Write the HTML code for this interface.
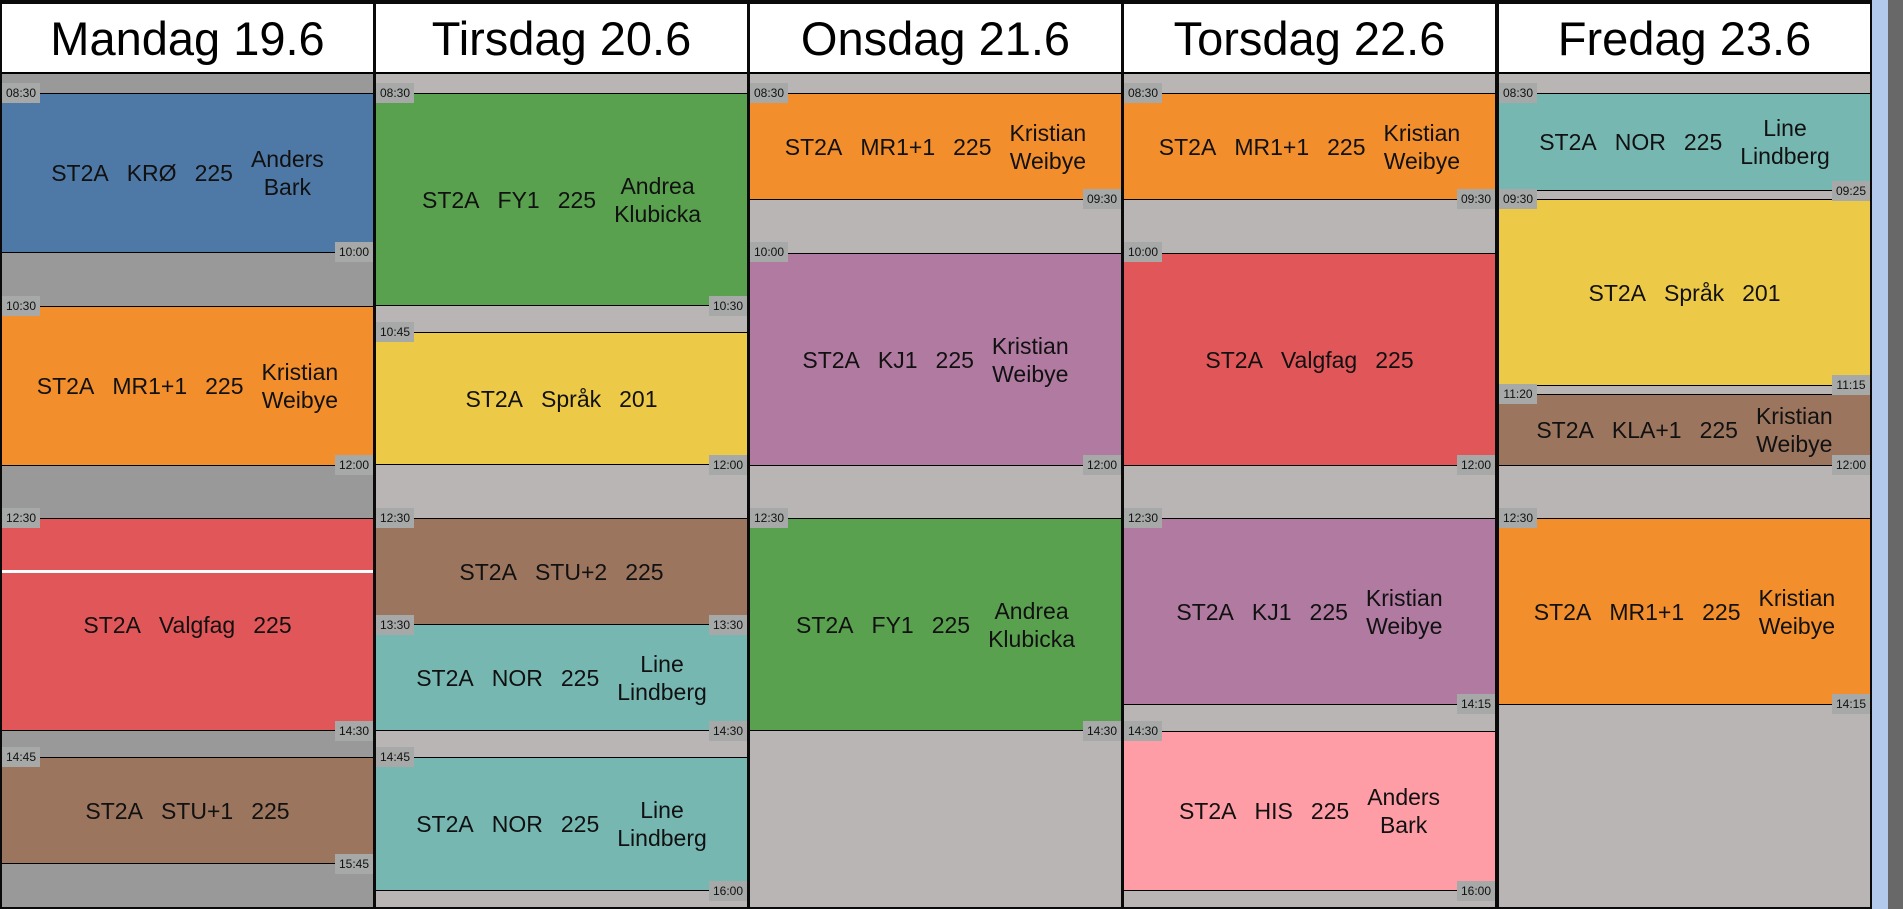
<!DOCTYPE html>
<html><head><meta charset="utf-8"><style>
*{margin:0;padding:0;box-sizing:border-box}
body{width:1903px;height:909px;overflow:hidden;background:#1b2236;font-family:"Liberation Sans",Arial,sans-serif;position:relative}
.sb1{position:absolute;left:1872px;top:0;width:16px;height:909px;background:#b3c9ec}
.sb2{position:absolute;left:1888px;top:0;width:15px;height:909px;background:#686868}
.blk{position:absolute;left:0;top:0;width:1872px;height:909px;background:#0a0a0a}
.col{position:absolute;top:4px;width:371px;height:903px;background:#b8b5b4}
.col.m{background:#999}
.hd{height:70px;background:#fff;display:flex;align-items:center;justify-content:center;font-size:47px;color:#000;border-bottom:2px solid #000}
.ev{position:absolute;left:0;width:371px;border-top:1px solid #000;border-bottom:1px solid #000;display:flex;align-items:center;justify-content:center;font-size:23px;color:#111;line-height:28px}
.ev span{margin:0 9px;text-align:center}
.ev .n{width:min-content}
.t{position:absolute;width:38px;height:20px;background:#a6a9a8;font-size:12px;line-height:20px;text-align:center;color:#111;z-index:2}
.tl{left:0}.tr{right:0}
</style></head><body>
<div class="blk"></div>
<div class="sb1"></div><div class="sb2"></div>

<!-- Monday -->
<div class="col m" style="left:2px">
<div class="hd">Mandag 19.6</div>
<div class="ev" style="top:89px;height:160px;background:#4e79a7"><span>ST2A</span><span>KRØ</span><span>225</span><span class="n">Anders Bark</span></div>
<div class="ev" style="top:302px;height:160px;background:#f28e2b"><span>ST2A</span><span>MR1+1</span><span>225</span><span class="n">Kristian Weibye</span></div>
<div class="ev" style="top:514px;height:213px;background:#e15759"><span>ST2A</span><span>Valgfag</span><span>225</span></div>
<div style="position:absolute;left:0;top:566px;width:371px;height:3px;background:#fff"></div>
<div class="ev" style="top:753px;height:107px;background:#9c755f"><span>ST2A</span><span>STU+1</span><span>225</span></div>
<div class="t tl" style="top:79px">08:30</div><div class="t tr" style="top:238px">10:00</div>
<div class="t tl" style="top:292px">10:30</div><div class="t tr" style="top:451px">12:00</div>
<div class="t tl" style="top:504px">12:30</div><div class="t tr" style="top:717px">14:30</div>
<div class="t tl" style="top:743px">14:45</div><div class="t tr" style="top:850px">15:45</div>
</div>

<!-- Tuesday -->
<div class="col" style="left:376px">
<div class="hd">Tirsdag 20.6</div>
<div class="ev" style="top:89px;height:213px;background:#59a14f"><span>ST2A</span><span>FY1</span><span>225</span><span class="n">Andrea Klubicka</span></div>
<div class="ev" style="top:328px;height:133px;background:#edc948"><span>ST2A</span><span>Språk</span><span>201</span></div>
<div class="ev" style="top:514px;height:107px;background:#9c755f"><span>ST2A</span><span>STU+2</span><span>225</span></div>
<div class="ev" style="top:620px;height:107px;background:#76b7b2"><span>ST2A</span><span>NOR</span><span>225</span><span class="n">Line Lindberg</span></div>
<div class="ev" style="top:753px;height:134px;background:#76b7b2"><span>ST2A</span><span>NOR</span><span>225</span><span class="n">Line Lindberg</span></div>
<div class="t tl" style="top:79px">08:30</div><div class="t tr" style="top:292px">10:30</div>
<div class="t tl" style="top:318px">10:45</div><div class="t tr" style="top:451px">12:00</div>
<div class="t tl" style="top:504px">12:30</div><div class="t tr" style="top:611px">13:30</div>
<div class="t tl" style="top:611px">13:30</div><div class="t tr" style="top:717px">14:30</div>
<div class="t tl" style="top:743px">14:45</div><div class="t tr" style="top:877px">16:00</div>
</div>

<!-- Wednesday -->
<div class="col" style="left:750px">
<div class="hd">Onsdag 21.6</div>
<div class="ev" style="top:89px;height:107px;background:#f28e2b"><span>ST2A</span><span>MR1+1</span><span>225</span><span class="n">Kristian Weibye</span></div>
<div class="ev" style="top:249px;height:213px;background:#b07aa1"><span>ST2A</span><span>KJ1</span><span>225</span><span class="n">Kristian Weibye</span></div>
<div class="ev" style="top:514px;height:213px;background:#59a14f"><span>ST2A</span><span>FY1</span><span>225</span><span class="n">Andrea Klubicka</span></div>
<div class="t tl" style="top:79px">08:30</div><div class="t tr" style="top:185px">09:30</div>
<div class="t tl" style="top:238px">10:00</div><div class="t tr" style="top:451px">12:00</div>
<div class="t tl" style="top:504px">12:30</div><div class="t tr" style="top:717px">14:30</div>
</div>

<!-- Thursday -->
<div class="col" style="left:1124px">
<div class="hd">Torsdag 22.6</div>
<div class="ev" style="top:89px;height:107px;background:#f28e2b"><span>ST2A</span><span>MR1+1</span><span>225</span><span class="n">Kristian Weibye</span></div>
<div class="ev" style="top:249px;height:213px;background:#e15759"><span>ST2A</span><span>Valgfag</span><span>225</span></div>
<div class="ev" style="top:514px;height:187px;background:#b07aa1"><span>ST2A</span><span>KJ1</span><span>225</span><span class="n">Kristian Weibye</span></div>
<div class="ev" style="top:727px;height:160px;background:#ff9da7"><span>ST2A</span><span>HIS</span><span>225</span><span class="n">Anders Bark</span></div>
<div class="t tl" style="top:79px">08:30</div><div class="t tr" style="top:185px">09:30</div>
<div class="t tl" style="top:238px">10:00</div><div class="t tr" style="top:451px">12:00</div>
<div class="t tl" style="top:504px">12:30</div><div class="t tr" style="top:690px">14:15</div>
<div class="t tl" style="top:717px">14:30</div><div class="t tr" style="top:877px">16:00</div>
</div>

<!-- Friday -->
<div class="col" style="left:1499px">
<div class="hd">Fredag 23.6</div>
<div class="ev" style="top:89px;height:98px;background:#76b7b2"><span>ST2A</span><span>NOR</span><span>225</span><span class="n">Line Lindberg</span></div>
<div class="ev" style="top:195px;height:187px;background:#edc948"><span>ST2A</span><span>Språk</span><span>201</span></div>
<div class="ev" style="top:390px;height:72px;background:#9c755f"><span>ST2A</span><span>KLA+1</span><span>225</span><span class="n">Kristian Weibye</span></div>
<div class="ev" style="top:514px;height:187px;background:#f28e2b"><span>ST2A</span><span>MR1+1</span><span>225</span><span class="n">Kristian Weibye</span></div>
<div class="t tl" style="top:79px">08:30</div><div class="t tr" style="top:177px">09:25</div>
<div class="t tl" style="top:185px">09:30</div><div class="t tr" style="top:371px">11:15</div>
<div class="t tl" style="top:380px">11:20</div><div class="t tr" style="top:451px">12:00</div>
<div class="t tl" style="top:504px">12:30</div><div class="t tr" style="top:690px">14:15</div>
</div>
</body></html>
